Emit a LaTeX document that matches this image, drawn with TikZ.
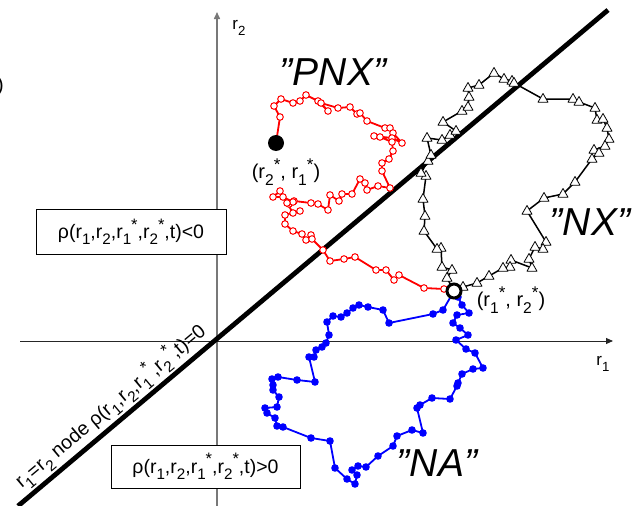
\documentclass[tikz,border=0pt]{standalone}
\usepackage{fontspec}
\setmainfont{Liberation Sans}
\usetikzlibrary{arrows.meta}
\definecolor{axgray}{RGB}{120,120,120}
\tikzset{
  axisv/.style={draw=axgray, line width=1.5pt, -{Triangle[length=7pt,width=6pt]}},
  axish/.style={draw=black!85, line width=0.9pt, -{Triangle[length=7pt,width=6pt]}},
  diag/.style={line width=4.8pt, line cap=butt},
  regionbox/.style={draw, line width=0.8pt, fill=white, minimum width=190pt, minimum height=45pt, font=\fontsize{19.5}{23}\selectfont},
  lbl/.style={font=\fontsize{17}{20}\selectfont},
  ptlbl/.style={font=\fontsize{20}{24}\selectfont},
  dlbl/.style={font=\fontsize{19.5}{23}\selectfont},
  biglbl/.style={font=\fontsize{39}{45}\selectfont\itshape},
  redline/.style={draw=red, line width=1.8pt, line join=round},
  redmark/.style={draw=red, fill=white, line width=1pt},
  blueline/.style={draw=blue, line width=1.8pt, line join=round},
  bluemark/.style={fill=blue},
  blkline/.style={draw=black, line width=1.5pt, line join=round},
  trimark/.style={draw=black, fill=white, line width=0.8pt, line join=round},
}
\newcommand{\sbs}[1]{\raisebox{-0.32em}{\scalebox{0.78}{#1}}}
\newcommand{\sps}{\raisebox{0.42em}{\scalebox{0.85}{*}}}
\newcommand{\rr}[1]{r\sbs{#1}}
\newcommand{\rs}[1]{r\sbs{#1}\sps}
\begin{document}
\begin{tikzpicture}[x=1pt,y=-1pt]
\useasboundingbox (0,0) rectangle (643,506);
% axes
\coordinate (vb) at (217,506);
\coordinate (vt) at (217,12);
\coordinate (hl) at (20,341);
\coordinate (hr) at (613,341);
\draw[axisv] (vb) -- (vt);
\draw[axish] (hl) -- (hr);
\node[lbl] (r2lab) at (239,28) {\rr{2}};
\node[lbl] (r1lab) at (603,364) {\rr{1}};
% partial parenthesis at left edge
\node[ptlbl, anchor=east, inner sep=0pt] (paren) at (4,86) {)};
% boxes
\node[regionbox] (neg) at (131,232) {ρ(\rr{1},\rr{2},\rs{1},\rs{2},t)<0};
\node[regionbox, minimum width=189pt, minimum height=43pt] (pos) at (205.5,466.5) {ρ(\rr{1},\rr{2},\rs{1},\rs{2},t)>0};
% diagonal
\coordinate (d0) at (18,506);
\coordinate (d1) at (608,10);
\draw[diag] (d0) -- (d1) node[pos=0.175, sloped, above=1pt, dlbl, inner sep=1pt] (dlab) {\rr{1}=\rr{2} node ρ(\rr{1},\rr{2},\rs{1},\rs{2},t)=0};
% endpoints
\coordinate (start) at (276,143);
\coordinate (home) at (454,291);
% red walk
\def\redlist{(280,117),(274,106),(281,99),(293,103),(300,101),(306,95),(318,101),(328,111),(321,103),(338,108),(350,107),(357,114),(360,113),(367,121),(385,128),(390,128),(393,133),(402,143),(392,138),(374,136),(380,137),(392,142),(393,151),(389,159),(382,163),(382,171),(390,188),(378,186),(367,190),(365,183),(360,179),(352,194),(342,194),(339,201),(330,195),(328,210),(318,204),(311,203),(294,201),(289,204),(280,191),(273,197),(283,197),(293,202),(287,203),(293,213),(300,211),(285,215),(285,224),(293,231),(302,234),(306,240),(311,235),(312,239),(323,250),(330,261),(344,259),(355,257),(376,270),(386,270),(394,280),(399,275),(424,288),(444,289)}
\draw[redline] (start) \foreach \p in \redlist {-- \p} -- (home);
\foreach \p in \redlist \draw[redmark] \p circle[radius=3.3pt];
% black walk
\def\blklist{(447,278),(452,270),(442,267),(441,248),(437,249),(424,231),(425,216),(423,199),(426,176),(421,173),(428,161),(431,155),(427,138),(442,140),(450,135),(456,131),(443,122),(462,111),(468,107),(469,97),(468,88),(479,85),(494,73),(504,79),(512,81),(514,83),(543,99),(573,99),(579,102),(595,108),(597,120),(603,119),(607,128),(609,139),(605,146),(594,150),(599,153),(592,159),(575,182),(563,194),(544,198),(527,211),(546,242),(543,249),(535,247),(529,259),(532,268),(511,260),(510,267),(503,268),(489,276),(477,283),(463,287)}
\draw[blkline] (home) \foreach \p in \blklist {-- \p} -- (home);
\foreach \p in \blklist \draw[trimark] \p +(0,-5.5) -- +(5,3.2) -- +(-5,3.2) -- cycle;
% blue walk
\def\bluelist{(443,310),(433,314),(389,323),(383,310),(368,307),(359,305),(353,308),(347,313),(341,317),(333,316),(327,322),(329,335),(326,343),(322,347),(316,350),(314,357),(309,357),(315,382),(297,380),(278,377),(272,379),(273,385),(273,390),(279,397),(277,407),(265,408),(267,413),(275,418),(277,426),(283,427),(311,438),(330,441),(335,468),(347,479),(355,484),(357,475),(352,470),(358,466),(366,467),(378,456),(393,446),(397,436),(412,430),(423,433),(417,408),(420,405),(432,398),(450,399),(457,386),(458,383),(462,374),(473,369),(483,368),(475,353),(466,349),(456,340),(468,335),(460,328),(453,323),(457,315),(469,313),(462,305),(458,297)}
\draw[blueline] (home) \foreach \p in \bluelist {-- \p} -- (home);
\foreach \p in \bluelist \fill[bluemark] \p circle[radius=3.8pt];
% start / home markers
\fill[black] (start) circle[radius=8pt];
\draw[black, line width=3pt, fill=white] (home) circle[radius=7pt];
% labels
\node[ptlbl] (startlab) at (286,172) {(\rs{2}, \rs{1})};
\node[ptlbl] (homelab) at (511,300) {(\rs{1}, \rs{2})};
\node[biglbl] (pnx) at (333,72) {"PNX"};
\node[biglbl] (nx) at (590,222) {"NX"};
\node[biglbl] (na) at (437,463) {"NA"};
\end{tikzpicture}
\end{document}
